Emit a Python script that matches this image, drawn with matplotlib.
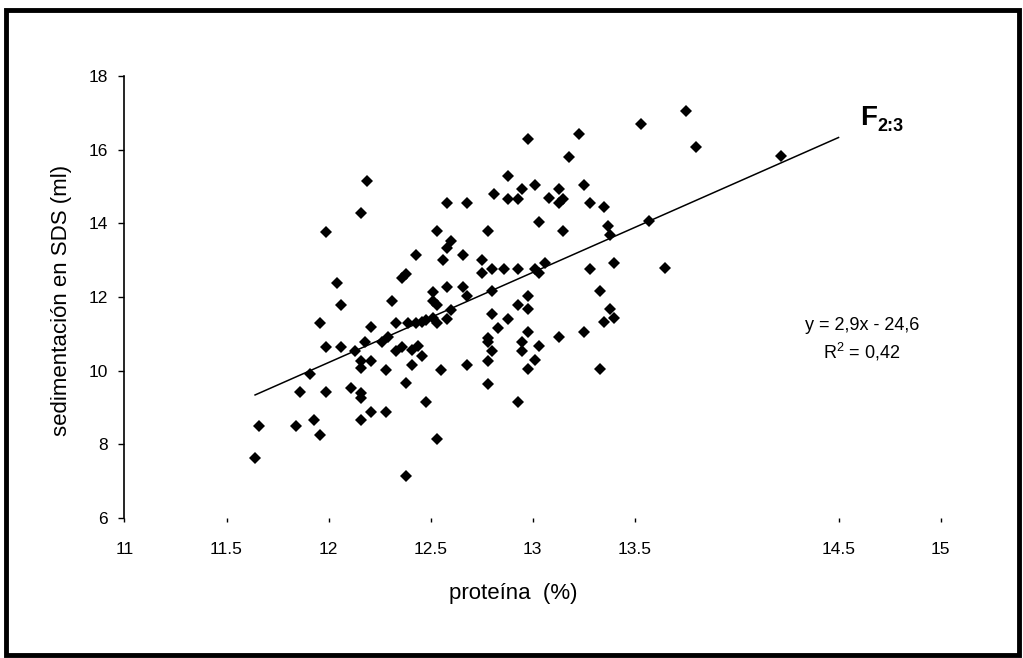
import matplotlib
matplotlib.use("Agg")
import matplotlib.pyplot as plt
from matplotlib.patches import Rectangle

plt.rcParams["font.family"] = ["Liberation Sans", "DejaVu Sans"]
plt.rcParams["mathtext.fontset"] = "custom"
plt.rcParams["mathtext.rm"] = "Liberation Sans"
plt.rcParams["mathtext.bf"] = "Liberation Sans:bold"

# proteína (%) y sedimentación SDS (ml)
proteina = [
    12.19, 12.58, 12.68, 12.16, 11.99, 12.53, 12.60, 12.58, 12.43, 12.66,
    12.56, 12.38, 12.36, 12.04, 12.58, 12.66, 12.51, 12.68, 12.06, 12.31,
    12.51, 12.53, 12.60, 12.58, 11.96, 12.33, 12.39, 12.43, 12.46, 12.48,
    12.51, 12.53, 12.21, 11.99, 12.06, 12.18, 12.26, 12.29, 12.33, 12.36,
    12.41, 12.44, 12.46, 12.13, 12.16, 12.16, 12.21, 12.28, 12.41, 12.68,
    12.55, 11.91, 12.38, 11.86, 11.99, 12.11, 12.16, 12.16, 12.48, 12.21,
    12.28, 11.66, 11.84, 11.93, 12.16, 11.96, 12.53, 11.64, 12.38,
    13.75, 13.53, 13.23, 12.98, 13.18, 12.88, 12.81, 12.88, 12.93, 12.95,
    13.01, 13.08, 13.13, 13.15, 13.13, 13.25, 13.28, 13.35, 13.03, 12.78,
    13.15, 13.37, 13.38, 13.57, 12.75, 12.75, 12.80, 12.86, 12.93, 13.01,
    13.03, 13.06, 13.28, 13.40, 13.65, 12.80, 12.98, 13.33, 12.93, 12.98,
    13.38, 13.40, 13.35, 12.80, 12.88, 12.83, 12.78, 12.78, 12.98, 12.95,
    13.03, 13.13, 13.25, 12.80, 12.95, 12.78, 13.01, 12.98, 13.33, 12.78,
    12.93, 13.80, 14.22,
]
sds = [
    15.16, 14.55, 14.55, 14.27, 13.77, 13.79, 13.52, 13.32, 13.15, 13.15,
    13.01, 12.63, 12.51, 12.37, 12.27, 12.28, 12.13, 12.03, 11.77, 11.90,
    11.88, 11.77, 11.65, 11.40, 11.29, 11.29, 11.29, 11.29, 11.31, 11.38,
    11.42, 11.29, 11.18, 10.65, 10.65, 10.77, 10.79, 10.91, 10.52, 10.65,
    10.56, 10.67, 10.41, 10.52, 10.25, 10.07, 10.27, 10.02, 10.16, 10.16,
    10.02, 9.91, 9.66, 9.41, 9.41, 9.53, 9.39, 9.25, 9.15, 8.89,
    8.89, 8.50, 8.50, 8.65, 8.65, 8.24, 8.15, 7.63, 7.15,
    17.06, 16.70, 16.43, 16.28, 15.80, 15.29, 14.79, 14.66, 14.66, 14.93,
    15.04, 14.68, 14.93, 14.66, 14.55, 15.04, 14.55, 14.44, 14.03, 13.80,
    13.80, 13.93, 13.69, 14.05, 13.01, 12.65, 12.76, 12.76, 12.76, 12.76,
    12.65, 12.92, 12.76, 12.92, 12.78, 12.15, 12.03, 12.15, 11.77, 11.67,
    11.67, 11.42, 11.32, 11.53, 11.41, 11.17, 10.88, 10.79, 11.05, 10.79,
    10.68, 10.91, 11.05, 10.54, 10.54, 10.27, 10.29, 10.05, 10.05, 9.64,
    9.15, 16.07, 15.83,
]

# línea de tendencia (extremos)
tend_x = [11.64, 14.50]
tend_y = [9.34, 16.33]

xticks = [11, 11.5, 12, 12.5, 13, 13.5, 14.5, 15]
xtick_labels = ["11", "11.5", "12", "12.5", "13", "13.5", "14.5", "15"]
yticks = [6, 8, 10, 12, 14, 16, 18]

fig = plt.figure(figsize=(10.23, 6.58), dpi=100)
ax = fig.add_axes([0.1217, 0.2128, 0.7977, 0.6717])

ax.plot(proteina, sds, linestyle="none", marker="D", markersize=6.2,
        color="black", markeredgewidth=0)
ax.plot(tend_x, tend_y, color="black", linewidth=1.1)

ax.set_xlim(11, 15)
ax.set_ylim(6, 18)
ax.set_xticks(xticks)
ax.set_xticklabels(xtick_labels)
ax.set_yticks(yticks)
ax.tick_params(axis="both", labelsize=12.5, length=4, width=1, color="black")
ax.tick_params(axis="x", pad=14, length=3)
ax.tick_params(axis="y", pad=8)

for s in ["top", "right", "bottom"]:
    ax.spines[s].set_visible(False)
ax.spines["left"].set_linewidth(1.2)

fig.text(62 / 1023, 1 - 300 / 658, "sedimentación en SDS (ml)", rotation=90,
         ha="center", va="center", fontsize=16)
fig.text(513 / 1023, 1 - 594 / 658, "proteína  (%)", ha="center", va="center",
         fontsize=16)

# ecuación y etiqueta
fig.text(862 / 1023, 1 - 326 / 658, "y = 2,9x - 24,6", ha="center", va="center",
         fontsize=13)
fig.text(862 / 1023, 1 - 352 / 658, "R$^2$ = 0,42", ha="center", va="center",
         fontsize=13)
fig.text(860 / 1023, 1 - 125 / 658, "F", ha="left", va="baseline",
         fontsize=20, fontweight="bold")
fig.text(877 / 1023, 1 - 131 / 658, "2:3", ha="left", va="baseline",
         fontsize=13, fontweight="bold")

# marco
fig.patches.append(Rectangle((0.006, 0.004), 0.99, 0.981, transform=fig.transFigure,
                             fill=False, edgecolor="black", linewidth=3.5))

fig.savefig("out.png", dpi=100)
